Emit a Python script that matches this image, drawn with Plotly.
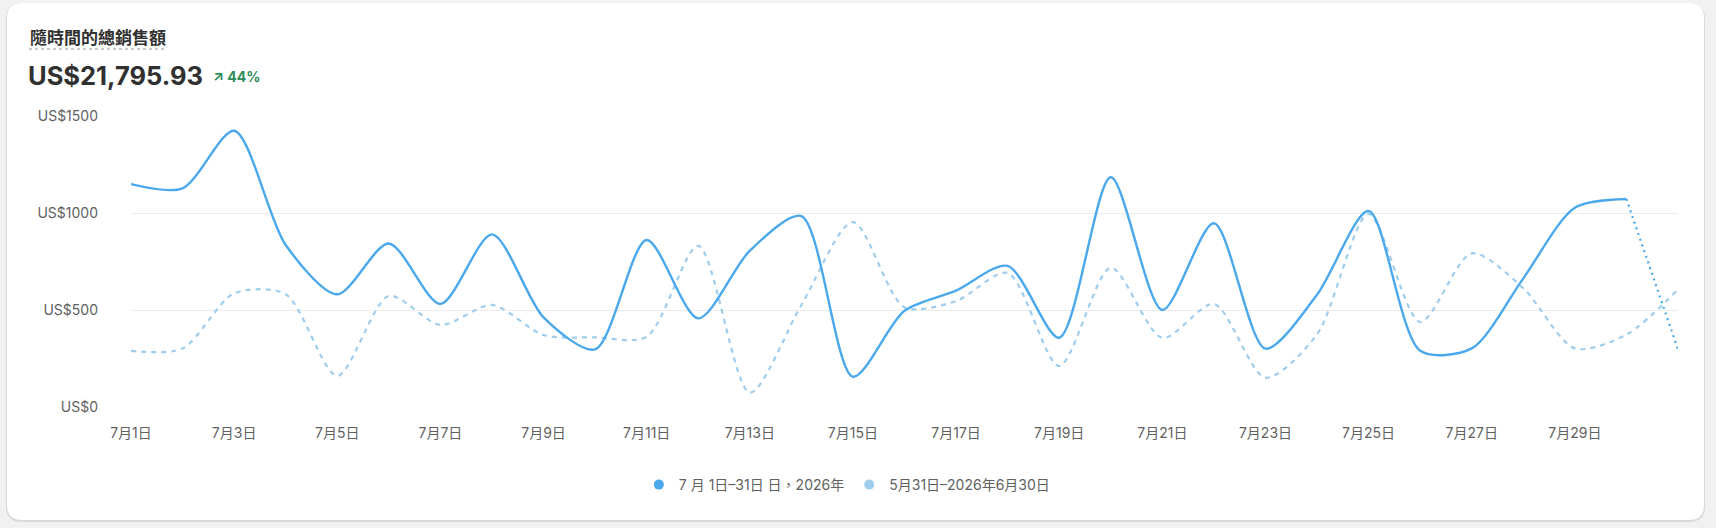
import plotly.graph_objects as go

# %% Dados
dias = list(range(1, 32))
vendas_jul = [1149, 1127, 1424, 835, 581, 843, 531, 890, 462, 297,
              861, 457, 806, 984, 156, 496, 600, 727, 357, 1184,
              500, 947, 301, 579, 1010, 290, 302, 663, 1027, 1072, 297]
vendas_anterior = [289, 302, 586, 581, 161, 572, 423, 526, 371, 359,
                   362, 831, 74, 526, 953, 514, 546, 691, 211, 718,
                   356, 531, 151, 375, 995, 438, 792, 612, 302, 373, 606]
dias_tick = list(range(1, 30, 2))
ticks_x = [f"7月{d}日" for d in dias_tick]
ticks_y = [0, 500, 1000, 1500]
ticks_y_txt = ["US$0", "US$500", "US$1000", "US$1500"]
nomes = ["7 月 1日–31日 日，2026年", "5月31日–2026年6月30日"]
titulo = "隨時間的總銷售額"
total = "US$21,795.93"
variacao = "↗ 44%"

COR_ATUAL = "#4aa8ec"
COR_ANT = "#9fcdee"
FONTE = "Inter, 'Noto Sans CJK TC', sans-serif"
SUAVE = 0.8

# %% Layout em pixels
W, H = 1716, 528
L, R, T, B = 131, 1678, 116, 407


def px_x(x):
    return (x - L) / (R - L)


def px_y(y):
    return (B - y) / (B - T)


def card_path(x0, y0, x1, y1, r):
    X0, X1 = px_x(x0), px_x(x1)
    Y0, Y1 = px_y(y0), px_y(y1)
    rx, ry = r / (R - L), r / (B - T)
    return (
        f"M{X0 + rx},{Y0} L{X1 - rx},{Y0} Q{X1},{Y0} {X1},{Y0 - ry} "
        f"L{X1},{Y1 + ry} Q{X1},{Y1} {X1 - rx},{Y1} "
        f"L{X0 + rx},{Y1} Q{X0},{Y1} {X0},{Y1 + ry} "
        f"L{X0},{Y0 - ry} Q{X0},{Y0} {X0 + rx},{Y0} Z"
    )


fig = go.Figure()

# série anterior (tracejada)
fig.add_trace(go.Scatter(
    x=dias, y=vendas_anterior, mode="lines",
    line=dict(color=COR_ANT, width=2.2, dash="5px,5px",
              shape="spline", smoothing=SUAVE),
    showlegend=False, hoverinfo="skip",
))
# série atual: pontilhada no último dia (período incompleto)
fig.add_trace(go.Scatter(
    x=dias[-2:], y=vendas_jul[-2:], mode="lines",
    line=dict(color=COR_ATUAL, width=2.2, dash="2px,4px"),
    showlegend=False, hoverinfo="skip",
))
fig.add_trace(go.Scatter(
    x=dias[:-1], y=vendas_jul[:-1], mode="lines",
    line=dict(color=COR_ATUAL, width=2.4, shape="spline", smoothing=SUAVE),
    showlegend=False, hoverinfo="skip",
))

# legenda com marcadores circulares
for nome, cor in zip(nomes, [COR_ATUAL, COR_ANT]):
    fig.add_trace(go.Scatter(
        x=[None], y=[None], mode="markers", name=nome,
        marker=dict(color=cor, size=10, symbol="circle"),
    ))

fig.update_layout(
    width=W, height=H,
    margin=dict(l=L, r=W - R, t=T, b=H - B),
    paper_bgcolor="#f1f1f1",
    plot_bgcolor="rgba(0,0,0,0)",
    font=dict(family=FONTE, color="#616161", size=14),
    legend=dict(
        orientation="h", xref="container", yref="container",
        x=0.4935, xanchor="center", y=1 - 485 / H, yanchor="middle",
        font=dict(size=14, color="#616161"), itemwidth=30,
        bgcolor="rgba(0,0,0,0)",
    ),
    xaxis=dict(
        range=[1, 31], tickvals=dias_tick, ticktext=ticks_x,
        showgrid=False, zeroline=False, showline=False, ticks="",
        ticklabelstandoff=16, fixedrange=True,
    ),
    yaxis=dict(
        range=[0, 1500], tickvals=ticks_y, ticktext=ticks_y_txt,
        showgrid=True, gridcolor="#ebebeb", gridwidth=1,
        zeroline=False, showline=False, ticks="",
        ticklabelstandoff=32, fixedrange=True,
    ),
    shapes=[
        dict(type="path", xref="paper", yref="paper", layer="below",
             path=card_path(6, 3, 1705, 522, 16), fillcolor="#d9d9d9",
             line=dict(width=0)),
        dict(type="path", xref="paper", yref="paper", layer="below",
             path=card_path(7, 3, 1704, 520, 15), fillcolor="white",
             line=dict(width=0)),
        dict(type="line", xref="paper", yref="paper",
             x0=px_x(29), x1=px_x(167), y0=px_y(49), y1=px_y(49),
             line=dict(color="#b5b5b5", width=1.5, dash="dot")),
    ],
    annotations=[
        dict(text=f"<b>{titulo}</b>", xref="paper", yref="paper",
             x=px_x(28), y=px_y(38), xanchor="left", yanchor="middle",
             showarrow=False, font=dict(size=17, color="#303030")),
        dict(text=f"<b>{total}</b>", xref="paper", yref="paper",
             x=px_x(26), y=px_y(75), xanchor="left", yanchor="middle",
             showarrow=False, font=dict(size=25.5, color="#303030")),
        dict(text=f"<b>{variacao}</b>", xref="paper", yref="paper",
             x=px_x(211), y=px_y(76), xanchor="left", yanchor="middle",
             showarrow=False, font=dict(size=14, color="#2e8b57")),
    ],
)

fig.write_html(
    "out.html",
    config={"displayModeBar": False},
    post_script="document.body.style.margin='0';",
)
